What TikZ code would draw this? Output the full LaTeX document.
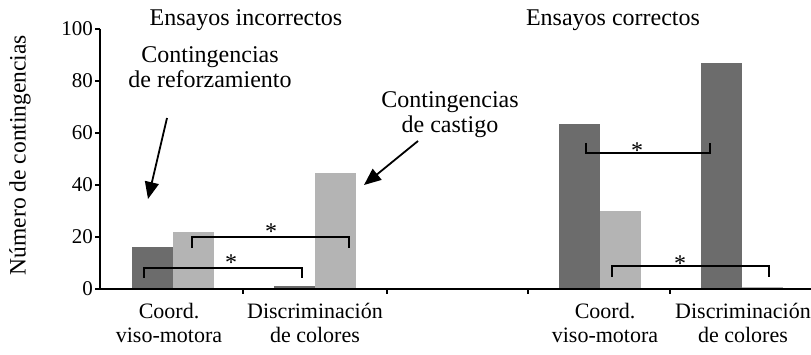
\documentclass[tikz,border=0pt]{standalone}
\usepackage{fontspec}
\setmainfont{Liberation Serif}
\usetikzlibrary{arrows.meta}
\definecolor{darkbar}{RGB}{108,108,108}
\definecolor{lightbar}{RGB}{180,180,180}
\begin{document}
\begin{tikzpicture}[x=1pt,y=-1pt,
  txt/.style={font=\fontsize{22}{24}\selectfont, inner sep=0pt, align=center},
  bigtxt/.style={font=\fontsize{24}{25}\selectfont, inner sep=0pt, align=center},
  ticklab/.style={font=\fontsize{21}{22}\selectfont, inner sep=0pt, anchor=east},
  axisline/.style={line width=1.8pt},
  brk/.style={line width=1.8pt},
  star/.style={font=\fontsize{24}{24}\selectfont, inner sep=0pt},
  arr/.style={line width=1.8pt, -{Triangle[length=17pt,width=14pt]}}]
\useasboundingbox (0,0) rectangle (811,355);
% bars
\fill[darkbar]  (132,289) rectangle (173,{289-2.6*16});
\fill[lightbar] (173,289) rectangle (214,{289-2.6*22});
\fill[darkbar]  (274,289) rectangle (315,{289-2.6*1.2});
\fill[lightbar] (315,289) rectangle (356,{289-2.6*44.6});
\fill[darkbar]  (559,289) rectangle (600,{289-2.6*63.3});
\fill[lightbar] (600,289) rectangle (641,{289-2.6*30});
\fill[darkbar]  (701,289) rectangle (742,{289-2.6*87});
\fill[lightbar] (742,289) rectangle (783,{289-2.6*0.8});
% axes
\draw[axisline] (100,29) -- (100,289) -- (811,289);
\foreach \v in {0,20,40,60,80,100}{
  \draw[axisline] (95,{289-2.6*\v}) -- (100,{289-2.6*\v});
  \node[ticklab] at (93,{289-2.6*\v}) {\v};
}
\foreach \x in {243,387,528,670}{
  \draw[axisline] (\x,289) -- (\x,294);
}
% y label
\node[font=\fontsize{23.5}{24}\selectfont, inner sep=0pt, rotate=90] (ylab) at (20,155) {Número de contingencias};
% titles
\node[bigtxt] (t1) at (246,20) {Ensayos incorrectos};
\node[bigtxt] (t2) at (613,20) {Ensayos correctos};
% annotations
\node[bigtxt] (ref) at (210,67) {Contingencias\\de reforzamiento};
\node[bigtxt] (cas) at (450,115) {Contingencias\\de castigo};
\coordinate (refs) at (167,118);
\coordinate (reft) at (148,199);
\coordinate (cass) at (418,141);
\coordinate (cast) at (364,185);
\draw[arr] (refs) -- (reft);
\draw[arr] (cass) -- (cast);
% category labels
\node[txt] (c1) at (169,323) {Coord.\\viso-motora};
\node[txt] (c2) at (315,323) {Discriminación\\de colores};
\node[txt] (c3) at (605,323) {Coord.\\viso-motora};
\node[txt] (c4) at (743,323) {Discriminación\\de colores};
% brackets
\draw[brk] (144,278) -- (144,268) -- (302,268) -- (302,278);
\node[star] (s1) at (231,263) {*};
\draw[brk] (192,248) -- (192,237) -- (349,237) -- (349,248);
\node[star] (s2) at (271,232) {*};
\draw[brk] (586,143) -- (586,153) -- (710,153) -- (710,143);
\node[star] (s3) at (637,151) {*};
\draw[brk] (612,277) -- (612,266) -- (769,266) -- (769,277);
\node[star] (s4) at (680,264) {*};
\end{tikzpicture}
\end{document}
